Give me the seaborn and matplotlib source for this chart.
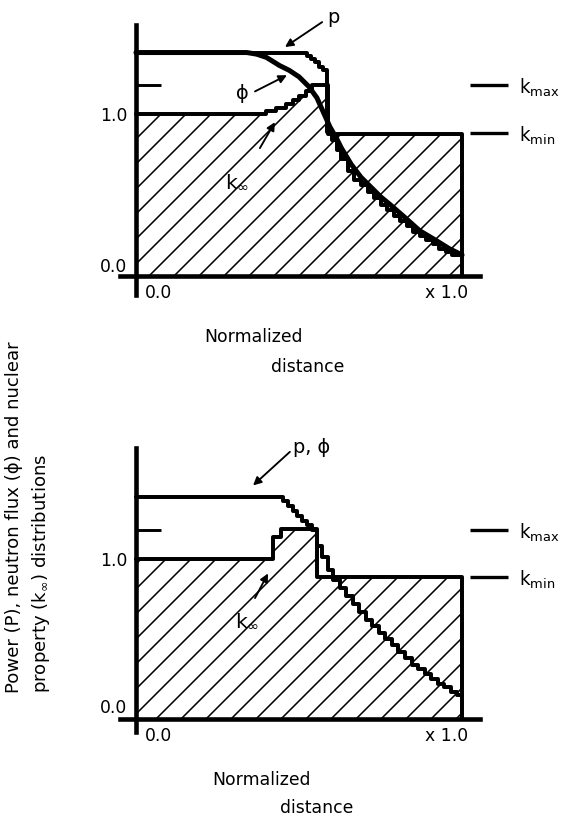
import matplotlib
matplotlib.use("Agg")
import matplotlib.pyplot as plt
import seaborn as sns
import pandas as pd
from matplotlib.transforms import ScaledTranslation

sns.set_theme(style="white")
plt.rcParams["font.family"] = ["DejaVu Sans"]
plt.rcParams["mathtext.default"] = "regular"
plt.rcParams["hatch.linewidth"] = 0.75
plt.rcParams["text.color"] = "black"
plt.rcParams["axes.labelcolor"] = "black"
plt.rcParams["xtick.color"] = "black"
plt.rcParams["ytick.color"] = "black"

# ---------------- data ----------------
KMAX = 1.18
KMIN = 0.885
X_TICKS = [0.0, 1.0]
X_TICK_LABELS = ["0.0", "x 1.0"]
Y_TICKS = [0.0, 1.0]
Y_TICK_LABELS = ["0.0", "1.0"]

# top panel
top_p_x = [0.0, 0.525, 0.537, 0.549, 0.561, 0.573, 0.585, 0.60, 0.615, 0.63,
           0.65, 0.67, 0.69, 0.71, 0.73, 0.75, 0.77, 0.79, 0.81, 0.83,
           0.85, 0.87, 0.89, 0.91, 0.93, 0.95, 0.97, 1.0]
top_p_y = [1.38, 1.36, 1.34, 1.32, 1.29, 1.27, 0.89, 0.84, 0.78, 0.72,
           0.65, 0.59, 0.56, 0.52, 0.48, 0.44, 0.41, 0.37, 0.34, 0.31,
           0.27, 0.25, 0.22, 0.20, 0.17, 0.15, 0.13, 0.13]
top_phi_x = [0.0, 0.34, 0.37, 0.40, 0.44, 0.47, 0.50, 0.53, 0.555, 0.575,
             0.595, 0.615, 0.63, 0.66, 0.69, 0.72, 0.75, 0.78, 0.82, 0.87,
             0.92, 0.96, 1.0]
top_phi_y = [1.38, 1.38, 1.37, 1.35, 1.30, 1.27, 1.23, 1.17, 1.10, 1.01,
             0.92, 0.85, 0.79, 0.69, 0.61, 0.55, 0.49, 0.44, 0.37, 0.28,
             0.22, 0.17, 0.13]
top_k_x = [0.0, 0.40, 0.43, 0.46, 0.48, 0.50, 0.52, 0.54, 0.59, 1.0]
top_k_y = [1.00, 1.02, 1.04, 1.06, 1.09, 1.11, 1.14, 1.18, 0.88, 0.88]

# bottom panel
bot_p_x = [0.0, 0.45, 0.465, 0.48, 0.495, 0.51, 0.525, 0.54, 0.555, 0.57,
           0.59, 0.605, 0.625, 0.645, 0.665, 0.685, 0.705, 0.725, 0.745, 0.765,
           0.785, 0.805, 0.825, 0.845, 0.865, 0.885, 0.905, 0.925, 0.945, 0.965,
           0.985, 1.0]
bot_p_y = [1.39, 1.36, 1.33, 1.30, 1.27, 1.24, 1.21, 1.18, 1.08, 1.01,
           0.93, 0.87, 0.82, 0.77, 0.72, 0.67, 0.62, 0.58, 0.54, 0.50,
           0.46, 0.42, 0.38, 0.34, 0.31, 0.28, 0.25, 0.22, 0.20, 0.17,
           0.15, 0.15]
bot_k_x = [0.0, 0.42, 0.445, 0.555, 1.0]
bot_k_y = [1.00, 1.14, 1.19, 0.89, 0.89]

# ---------------- figure ----------------
DPI = 150
W, H = 568, 816
fig = plt.figure(figsize=(W / DPI, H / DPI), dpi=DPI)
FS = 8.3
LW = 1.9


def px_rect(left, top, right, bottom):
    return [left / W, 1 - bottom / H, (right - left) / W, (bottom - top) / H]


ax_top = fig.add_axes(px_rect(120, 25, 480, 295))
ax_bot = fig.add_axes(px_rect(120, 448, 480, 732))
ax_top.set_xlim(-0.049, 1.055)
ax_top.set_ylim(-0.117, 1.55)
ax_bot.set_xlim(-0.049, 1.055)
ax_bot.set_ylim(-0.081, 1.694)


def style_axes(ax, zero_shift_px):
    ax.set_facecolor("none")
    for s in ["top", "right"]:
        ax.spines[s].set_visible(False)
    for s in ["left", "bottom"]:
        ax.spines[s].set_position(("data", 0))
        ax.spines[s].set_linewidth(2.2)
        ax.spines[s].set_color("black")
        ax.spines[s].set_zorder(6)
    ax.set_xticks(X_TICKS, X_TICK_LABELS)
    ax.set_yticks(Y_TICKS, Y_TICK_LABELS)
    ax.set_yticks([KMAX], minor=True)
    ax.tick_params(axis="both", which="major", length=0, labelsize=FS,
                   colors="black")
    ax.tick_params(axis="x", which="major", pad=4.0)
    ax.tick_params(axis="y", which="major", pad=4.2)
    ax.tick_params(axis="y", which="minor", direction="in", length=12,
                   width=1.4, color="black", left=True)
    xl = ax.get_xticklabels()
    xl[0].set_ha("left")
    xl[0].set_transform(xl[0].get_transform()
                        + ScaledTranslation(9 / DPI, 0, fig.dpi_scale_trans))
    xl[1].set_ha("right")
    xl[1].set_transform(xl[1].get_transform()
                        + ScaledTranslation(6 / DPI, 0, fig.dpi_scale_trans))
    yl = ax.get_yticklabels()
    yl[0].set_transform(yl[0].get_transform()
                        + ScaledTranslation(0, zero_shift_px / DPI,
                                            fig.dpi_scale_trans))
    ax.grid(False)
    # right side k_max / k_min marks
    sec = ax.secondary_yaxis((470 - 120) / 360)
    sec.spines["right"].set_visible(False)
    sec.set_yticks([KMAX, KMIN],
                   [r"k$_{\mathregular{max}}$", r"k$_{\mathregular{min}}$"])
    sec.tick_params(axis="y", direction="out", length=18, width=1.6,
                    pad=5.5, labelsize=FS + 0.6, colors="black")


def draw_k(ax, kx, ky):
    ext_x = kx + [kx[-1]]
    ext_y = ky + [0.0]
    ax.fill_between(kx, ky, 0, step="post", facecolor="none",
                    edgecolor="black", hatch="//", linewidth=0, zorder=1)
    sns.lineplot(x=ext_x, y=ext_y, ax=ax, sort=False, estimator=None,
                 drawstyle="steps-post", color="black", linewidth=LW,
                 zorder=3)


def arrow(ax, tail, head):
    ax.annotate("", xy=head, xytext=tail, annotation_clip=False,
                arrowprops=dict(arrowstyle="-|>", color="black", lw=0.9,
                                mutation_scale=8, shrinkA=0, shrinkB=0))


# ---- top panel ----
style_axes(ax_top, 11)
draw_k(ax_top, top_k_x, top_k_y)
sns.lineplot(x=top_phi_x, y=top_phi_y, ax=ax_top, sort=False, estimator=None,
             color="black", linewidth=2.4, zorder=4)
sns.lineplot(x=top_p_x, y=top_p_y, ax=ax_top, sort=False, estimator=None,
             drawstyle="steps-post", color="black", linewidth=LW, zorder=4)
ax_top.text(0.604, 1.595, "p", fontsize=FS + 1, ha="center", va="center")
arrow(ax_top, (0.571, 1.568), (0.457, 1.414))
ax_top.text(0.325, 1.13, "ϕ", fontsize=FS + 1, ha="center", va="center")
arrow(ax_top, (0.365, 1.14), (0.463, 1.24))
ax_top.text(0.31, 0.58, r"k$_{\infty}$", fontsize=FS + 1.5, ha="center",
            va="center")
arrow(ax_top, (0.38, 0.79), (0.426, 0.95))
ax_top.set_xlabel("Normalized", fontsize=FS)
ax_top.xaxis.set_label_coords((253 - 120) / 360, (295 - 328) / 270)
ax_top.text((308 - 120) / 360, (295 - 367) / 270, "distance", fontsize=FS,
            ha="center", va="center", transform=ax_top.transAxes)
ax_top.set_ylabel("")

# ---- bottom panel ----
style_axes(ax_bot, 13)
draw_k(ax_bot, bot_k_x, bot_k_y)
sns.lineplot(x=bot_p_x, y=bot_p_y, ax=ax_bot, sort=False, estimator=None,
             drawstyle="steps-post", color="black", linewidth=LW, zorder=4)
ax_bot.text(0.54, 1.70, "p, ϕ", fontsize=FS + 1, ha="center", va="center")
arrow(ax_bot, (0.472, 1.67), (0.359, 1.46))
ax_bot.text(0.34, 0.61, r"k$_{\infty}$", fontsize=FS + 1.5, ha="center",
            va="center")
arrow(ax_bot, (0.365, 0.756), (0.405, 0.91))
ax_bot.set_xlabel("Normalized", fontsize=FS)
ax_bot.xaxis.set_label_coords((262 - 120) / 360, (732 - 771) / 284)
ax_bot.text((317 - 120) / 360, (732 - 808) / 284, "distance", fontsize=FS,
            ha="center", va="center", transform=ax_bot.transAxes)
ax_bot.set_ylabel("")

fig.text(28.5 / W, 1 - 693 / H,
         "Power (P), neutron flux (ϕ) and nuclear\n"
         r"property (k$_{\infty}$) distributions",
         rotation=90, ha="center", va="bottom", multialignment="left",
         fontsize=8.7, linespacing=1.45)

fig.savefig("out.png", dpi=DPI, facecolor="white")
